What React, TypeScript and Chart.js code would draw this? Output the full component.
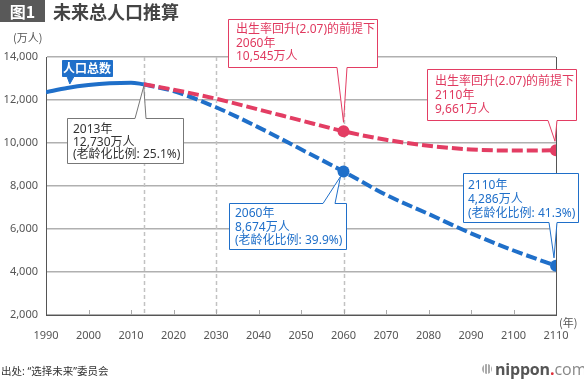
import React, { useEffect, useRef } from "react";
import { Chart, registerables } from "chart.js";
Chart.register(...registerables);

const actualYears = [1990, 1995, 2000, 2005, 2010, 2013];
const actualValues = [12361, 12557, 12693, 12777, 12806, 12730];
const projYears = [2013, 2020, 2030, 2040, 2050, 2060, 2070, 2080, 2090, 2100, 2110];
const baseValues = [12730, 12410, 11662, 10728, 9708, 8674, 7590, 6700, 5800, 5000, 4286];
const recoveryValues = [12730, 12480, 12060, 11560, 11050, 10545, 10150, 9870, 9700, 9650, 9661];
const markedYears = [2060, 2110];
const dashedYears = [2013, 2030, 2060];

const FONT = '"Noto Sans CJK SC", "Noto Sans", sans-serif';
const TFONT = '"Noto Sans", "Noto Sans CJK SC", sans-serif';
const BLUE = "#1f6fc9";
const RED = "#e33d63";

type Callout = {
  year: number;
  value: number;
  box: [number, number, number, number];
  side: "top" | "bottom";
  base: [number, number];
  tipDx: number;
  tipDy: number;
  stroke: string;
  fill: string;
  color: string;
  lines: string[];
  textX: number;
  centers: number[];
  bold?: boolean;
  center?: boolean;
};

const callouts: Callout[] = [
  {
    year: 1995.6, value: 12560, box: [62, 60, 50, 16], side: "bottom", base: [67, 74], tipDx: 0, tipDy: -4,
    stroke: BLUE, fill: BLUE, color: "#fff", lines: ["人口总数"], textX: 87, centers: [68], bold: true, center: true,
  },
  {
    year: 2013, value: 12730, box: [67, 118, 116, 45], side: "top", base: [135, 146], tipDx: 0, tipDy: 2,
    stroke: "#777", fill: "#fff", color: "#333", lines: ["2013年", "12,730万人", "(老龄化比例: 25.1%)"], textX: 73, centers: [130, 142.5, 155],
  },
  {
    year: 2060, value: 10545, box: [228, 19, 149, 48], side: "bottom", base: [337, 347], tipDx: 0, tipDy: -9,
    stroke: RED, fill: "#fff", color: "#e0395f", lines: ["出生率回升(2.07)的前提下", "2060年", "10,545万人"], textX: 236, centers: [30, 43.5, 57],
  },
  {
    year: 2110, value: 9661, box: [427, 69, 149, 51], side: "bottom", base: [548, 557], tipDx: -1, tipDy: -9,
    stroke: RED, fill: "#fff", color: "#e0395f", lines: ["出生率回升(2.07)的前提下", "2110年", "9,661万人"], textX: 435, centers: [82, 96, 110],
  },
  {
    year: 2060, value: 8674, box: [229, 203, 117, 46], side: "top", base: [323, 335], tipDx: -3, tipDy: 5,
    stroke: BLUE, fill: "#fff", color: BLUE, lines: ["2060年", "8,674万人", "(老龄化比例: 39.9%)"], textX: 235, centers: [214, 227.5, 241],
  },
  {
    year: 2110, value: 4286, box: [463, 173, 115, 49], side: "bottom", base: [549, 557], tipDx: -2, tipDy: -8,
    stroke: BLUE, fill: "#fff", color: BLUE, lines: ["2110年", "4,286万人", "(老龄化比例: 41.3%)"], textX: 468, centers: [186, 200, 213.5],
  },
];

export default function App() {
  const ref = useRef<HTMLCanvasElement>(null);

  useEffect(() => {
    document.body.style.margin = "0";
    const canvas = ref.current!;

    const decor = {
      id: "decor",
      beforeDatasetsDraw(chart: any) {
        const { ctx, chartArea, scales } = chart;
        const xs = scales.x;
        ctx.save();
        ctx.strokeStyle = "#c2c2c2";
        ctx.lineWidth = 1.5;
        ctx.setLineDash([4, 3]);
        for (const yr of dashedYears) {
          const px = Math.round(xs.getPixelForValue(yr)) + 0.5;
          ctx.beginPath();
          ctx.moveTo(px, chartArea.top);
          ctx.lineTo(px, chartArea.bottom);
          ctx.stroke();
        }
        ctx.setLineDash([]);
        ctx.strokeStyle = "#aaa";
        ctx.lineWidth = 1;
        for (let yr = 2000; yr <= 2100; yr += 10) {
          const px = Math.round(xs.getPixelForValue(yr)) + 0.5;
          ctx.beginPath();
          ctx.moveTo(px, chartArea.bottom);
          ctx.lineTo(px, chartArea.bottom - 5);
          ctx.stroke();
        }
        ctx.strokeStyle = "#555";
        const rx = Math.round(xs.getPixelForValue(2110)) + 0.5;
        ctx.beginPath();
        ctx.moveTo(rx, chartArea.top);
        ctx.lineTo(rx, chartArea.bottom);
        ctx.stroke();
        ctx.restore();
      },
      afterDatasetsDraw(chart: any) {
        const { ctx, scales } = chart;
        ctx.save();
        for (const c of callouts) {
          const tx = scales.x.getPixelForValue(c.year) + c.tipDx;
          const ty = scales.y.getPixelForValue(c.value) + c.tipDy;
          const [bx, by, bw, bh] = c.box;
          const x0 = bx + 0.5, y0 = by + 0.5, x1 = bx + bw + 0.5, y1 = by + bh + 0.5;
          ctx.beginPath();
          if (c.side === "bottom") {
            ctx.moveTo(x0, y0);
            ctx.lineTo(x1, y0);
            ctx.lineTo(x1, y1);
            ctx.lineTo(c.base[1], y1);
            ctx.lineTo(tx, ty);
            ctx.lineTo(c.base[0], y1);
            ctx.lineTo(x0, y1);
          } else {
            ctx.moveTo(x0, y0);
            ctx.lineTo(c.base[0], y0);
            ctx.lineTo(tx, ty);
            ctx.lineTo(c.base[1], y0);
            ctx.lineTo(x1, y0);
            ctx.lineTo(x1, y1);
            ctx.lineTo(x0, y1);
          }
          ctx.closePath();
          ctx.fillStyle = c.fill;
          ctx.fill();
          ctx.strokeStyle = c.stroke;
          ctx.lineWidth = 1;
          ctx.lineJoin = "miter";
          ctx.stroke();
          ctx.fillStyle = c.color;
          ctx.font = `${c.bold ? "bold " : ""}12px ${c.bold ? FONT : TFONT}`;
          ctx.textBaseline = "middle";
          ctx.textAlign = c.center ? "center" : "left";
          c.lines.forEach((t, i) => ctx.fillText(t, c.textX, c.centers[i]));
        }
        ctx.restore();
      },
    };

    const pr = (years: number[]) => years.map((y) => (markedYears.includes(y) ? 6 : 0));

    const chart = new Chart(canvas, {
      type: "line",
      data: {
        datasets: [
          {
            data: actualYears.map((x, i) => ({ x, y: actualValues[i] })),
            borderColor: BLUE,
            borderWidth: 4,
            pointRadius: 0,
            cubicInterpolationMode: "monotone",
            borderCapStyle: "butt",
          },
          {
            data: projYears.map((x, i) => ({ x, y: recoveryValues[i] })),
            borderColor: RED,
            backgroundColor: RED,
            borderWidth: 4,
            borderDash: [11, 4],
            pointRadius: pr(projYears),
            pointBorderWidth: 0,
            pointBackgroundColor: RED,
            cubicInterpolationMode: "monotone",
          },
          {
            data: projYears.map((x, i) => ({ x, y: baseValues[i] })),
            borderColor: BLUE,
            backgroundColor: BLUE,
            borderWidth: 4,
            borderDash: [11, 4],
            pointRadius: pr(projYears),
            pointBorderWidth: 0,
            pointBackgroundColor: BLUE,
            cubicInterpolationMode: "monotone",
          },
        ],
      } as any,
      options: {
        animation: false,
        responsive: false,
        maintainAspectRatio: false,
        layout: { padding: { top: 57, left: 0, right: 28, bottom: 0 } },
        plugins: { legend: { display: false }, tooltip: { enabled: false } },
        scales: {
          x: {
            type: "linear",
            min: 1990,
            max: 2110,
            afterFit: (s: any) => { s.height = 65; },
            grid: { display: false, drawTicks: false },
            border: { display: true, color: "#555", width: 1 },
            ticks: {
              stepSize: 10,
              autoSkip: false,
              maxRotation: 0,
              padding: 14,
              color: "#555",
              font: { family: TFONT, size: 11 },
              callback: (v: any) => String(v),
            },
          },
          y: {
            min: 2000,
            max: 14000,
            afterFit: (s: any) => { s.width = 46; },
            grid: { color: "#b0b0b0", lineWidth: 1.5, drawTicks: false },
            border: { display: true, color: "#555", width: 1 },
            ticks: {
              stepSize: 2000,
              padding: 8,
              color: "#555",
              font: { family: TFONT, size: 11 },
              callback: (v: any) => Number(v).toLocaleString("en-US"),
            },
          },
        },
      } as any,
      plugins: [decor],
    });
    return () => chart.destroy();
  }, []);

  return (
    <div style={{ position: "relative", width: 584, height: 380, background: "#fff", fontFamily: FONT, overflow: "hidden" }}>
      <canvas ref={ref} width={584} height={380} style={{ position: "absolute", left: 0, top: 0 }} />
      <div style={{ position: "absolute", left: 0, top: 0, width: 45, height: 22, background: "#595959", color: "#fff", fontSize: 16, fontWeight: "bold", lineHeight: "22px", textAlign: "center" }}>图1</div>
      <div style={{ position: "absolute", left: 53, top: 0, height: 22, lineHeight: "22px", fontSize: 18, fontWeight: "bold", color: "#444" }}>未来总人口推算</div>
      <div style={{ position: "absolute", left: 13, top: 29, fontSize: 11, color: "#555", lineHeight: "16px" }}>(万人)</div>
      <div style={{ position: "absolute", left: 559, top: 314, fontSize: 11, color: "#555", lineHeight: "16px" }}>(年)</div>
      <div style={{ position: "absolute", left: 1, top: 363, fontSize: 10.5, color: "#333", lineHeight: "16px", fontFamily: TFONT }}>出处: “选择未来”委员会</div>
      <div style={{ position: "absolute", left: 482, top: 359, height: 20, display: "flex", alignItems: "center" }}>
        <div style={{ width: 10, height: 10, borderRadius: 5, background: "repeating-linear-gradient(90deg,#aaa 0 1.5px,#fff 1.5px 3px)", marginRight: 3 }} />
        <span style={{ fontSize: 16, fontWeight: "bold", color: "#555", fontFamily: '"Open Sans", sans-serif', letterSpacing: -0.2 }}>nippon</span>
        <span style={{ fontSize: 16, fontWeight: "bold", color: "#e0303a", fontFamily: '"Open Sans", sans-serif' }}>.</span>
        <span style={{ fontSize: 16, color: "#888", fontFamily: '"Open Sans", sans-serif' }}>com</span>
      </div>
    </div>
  );
}
